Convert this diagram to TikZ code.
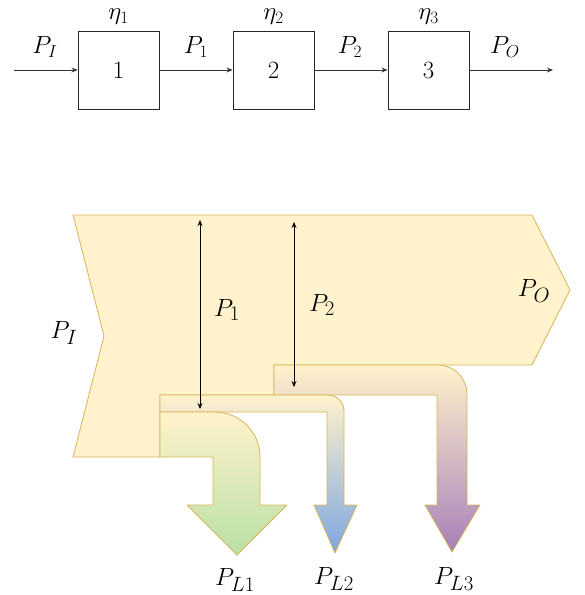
\documentclass[tikz,border=0pt]{standalone}
\usetikzlibrary{arrows.meta}
\definecolor{yfill}{HTML}{FFF2CC}
\definecolor{ystroke}{HTML}{D6B656}
\definecolor{gtip}{HTML}{B9E0A5}
\definecolor{btip}{HTML}{7EA6E0}
\definecolor{ptip}{HTML}{A680B8}
\tikzset{
  blk/.style={draw=black!85, line width=0.9pt, minimum width=81pt, minimum height=78pt, inner sep=0pt, font=\fontsize{30}{34}\selectfont},
  flow/.style={-{Stealth[length=6pt,width=5pt]}, line width=0.9pt, draw=black!80},
  lbl/.style={inner sep=0pt, font=\fontsize{27}{31}\selectfont},
  etalbl/.style={inner sep=0pt, font=\fontsize{24}{28}\selectfont},
  blbl/.style={inner sep=0pt, font=\fontsize{28}{32}\selectfont},
  band/.style={draw=ystroke, line width=0.8pt, line join=round},
  meas/.style={{Stealth[length=6pt,width=5pt]}-{Stealth[length=6pt,width=5pt]}, line width=0.8pt, draw=black},
}
\begin{document}
\begin{tikzpicture}[x=1pt,y=-1pt]
\useasboundingbox (0,0) rectangle (585,595);
% ---------- top chain ----------
\node[blk] (b1) at (118.5,70) {$1$};
\node[blk] (b2) at (273.5,70) {$2$};
\node[blk] (b3) at (428.5,70) {$3$};
\coordinate (in) at (14,70);
\coordinate (out) at (553,70);
\draw[flow] (in) -- (b1.west);
\draw[flow] (b1.east) -- (b2.west);
\draw[flow] (b2.east) -- (b3.west);
\draw[flow] (b3.east) -- (out);
\node[lbl] (tPI) at (45,47) {$P_I$};
\node[lbl] (tP1) at (196,47) {$P_1$};
\node[lbl] (tP2) at (350,47) {$P_2$};
\node[lbl] (tPO) at (505,47) {$P_O$};
\node[etalbl] (e1) at (118.5,17) {$\eta_1$};
\node[etalbl] (e2) at (273.5,17) {$\eta_2$};
\node[etalbl] (e3) at (428.5,17) {$\eta_3$};
% ---------- Sankey ----------
\path[band, fill=yfill] (73,215) -- (532,215) -- (570,290) -- (532,365) -- (274,365)
  -- (274,395) -- (160,395) -- (160,457) -- (73,457) -- (104,336) -- cycle;
% L3 band
\path[band, top color=yfill, bottom color=ptip] (274,365) -- (438,365)
  arc[start angle=-90, end angle=0, radius=29] -- (467,505) -- (480,505) -- (452,552)
  -- (425,505) -- (437,505) -- (437,395) -- (274,395) -- cycle;
% L2 band
\path[band, top color=yfill, bottom color=btip] (160,395) -- (328,395)
  arc[start angle=-90, end angle=0, radius=16] -- (344,505) -- (357,505) -- (335,553)
  -- (314,505) -- (327,505) -- (327,412) -- (160,412) -- cycle;
% L1 band
\path[band, top color=yfill, bottom color=gtip] (160,412) -- (215,412)
  arc[start angle=-90, end angle=0, radius=45] -- (260,505) -- (287,505) -- (237,555)
  -- (187,505) -- (213,505) -- (213,457) -- (160,457) -- cycle;
% measurement arrows
\coordinate (m1a) at (200,220);
\coordinate (m1b) at (200,409);
\coordinate (m2a) at (294,222);
\coordinate (m2b) at (294,387);
\draw[meas] (m1a) -- (m1b);
\draw[meas] (m2a) -- (m2b);
% labels
\node[blbl] (bPI) at (64,333) {$P_I$};
\node[blbl] (bP1) at (227,310) {$P_1$};
\node[blbl] (bP2) at (322,305) {$P_2$};
\node[blbl] (bPO) at (534,291) {$P_O$};
\node[blbl] (L1) at (235,580) {$P_{L1}$};
\node[blbl] (L2) at (334,579) {$P_{L2}$};
\node[blbl] (L3) at (454,579) {$P_{L3}$};
\end{tikzpicture}
\end{document}
